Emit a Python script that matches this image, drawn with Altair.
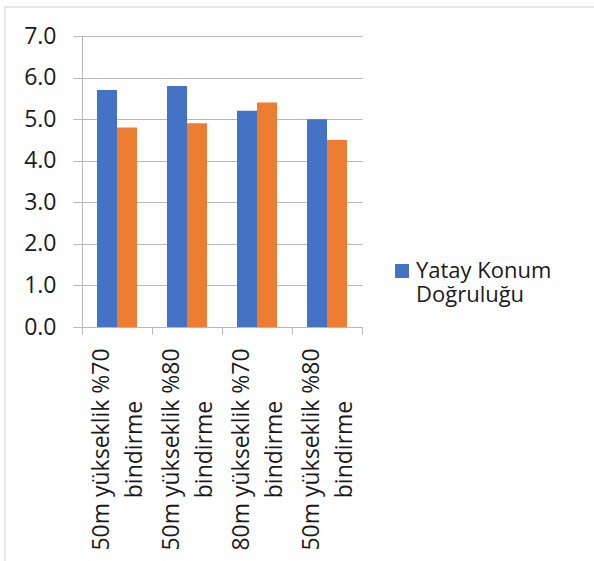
import json
import altair as alt
import pandas as pd

# ---- data ----
categories = ["50m yükseklik %70 bindirme", "50m yükseklik %80 bindirme",
              "80m yükseklik %70 bindirme", "50m yükseklik %80 bindirme"]
label_lines = [["50m yükseklik %70", "bindirme"],
               ["50m yükseklik %80", "bindirme"],
               ["80m yükseklik %70", "bindirme"],
               ["50m yükseklik %80", "bindirme"]]
series = ["Yatay Konum Doğruluğu", "Düşey Konum Doğruluğu"]
yatay = [5.7, 5.8, 5.2, 5.0]
dusey = [4.8, 4.9, 5.4, 4.5]
y_ticks = [0, 1, 2, 3, 4, 5, 6, 7]
colors = ["#4472C4", "#ED7D31"]

rows = []
for i, cat in enumerate(categories):
    rows.append({"pos": i, "kategori": cat, "seri": series[0], "deger": yatay[i]})
    rows.append({"pos": i, "kategori": cat, "seri": series[1], "deger": dusey[i]})
df = pd.DataFrame(rows)

FONT = "Open Sans"
GRID = "#b8b8b8"
TXT = "#1a1a1a"

label_expr = json.dumps(label_lines, ensure_ascii=False) + "[datum.value]"

bars = alt.Chart(df).mark_bar().encode(
    x=alt.X("pos:O",
            scale=alt.Scale(paddingInner=0, paddingOuter=0),
            axis=alt.Axis(title=None, labelExpr=label_expr, labelAngle=270,
                          labelAlign="center", labelBaseline="middle",
                          labelPadding=115, labelOffset=-16,
                          labelLineHeight=33, labelLimit=400,
                          labelFont=FONT, labelFontSize=23, labelColor=TXT,
                          tickBand="extent", ticks=True, tickSize=7,
                          tickColor=GRID, domainColor=GRID, grid=False)),
    xOffset=alt.XOffset("seri:N", sort=series,
                        scale=alt.Scale(paddingOuter=0.75, paddingInner=0)),
    y=alt.Y("deger:Q",
            scale=alt.Scale(domain=[0, 7], nice=False),
            axis=alt.Axis(title=None, values=y_ticks, format=".1f",
                          grid=True, gridColor=GRID, domainColor=GRID,
                          tickColor=GRID, tickSize=9, labelPadding=17,
                          labelFont=FONT, labelFontSize=23, labelColor=TXT)),
    color=alt.Color("seri:N",
                    scale=alt.Scale(domain=series, range=colors),
                    legend=alt.Legend(
                        title=None, values=[series[0]], orient="none",
                        legendX=309, legendY=224,
                        symbolType="square", symbolSize=196,
                        symbolStrokeWidth=0, labelOffset=3,
                        labelExpr="datum.label == 'Yatay Konum Doğruluğu' ? ['Yatay Konum', 'Doğruluğu'] : datum.label",
                        labelFont=FONT, labelFontSize=22, labelColor=TXT,
                        labelLimit=400)),
)

frame = alt.Chart(alt.Data(values=[{"a": 1}])).mark_rect(
    fill=None, stroke="#d0d0d0", strokeWidth=1
).encode(
    x=alt.value(-77), x2=alt.value(900),
    y=alt.value(-29), y2=alt.value(900),
)

chart = alt.layer(frame, bars).properties(
    width=280, height=291,
    autosize=alt.AutoSizeParams(type="none"),
    padding={"left": 82, "top": 36, "right": 232, "bottom": 234},
    background="white",
).configure_view(stroke=None)

chart.save("out.html", embed_options={"renderer": "svg", "actions": False})
